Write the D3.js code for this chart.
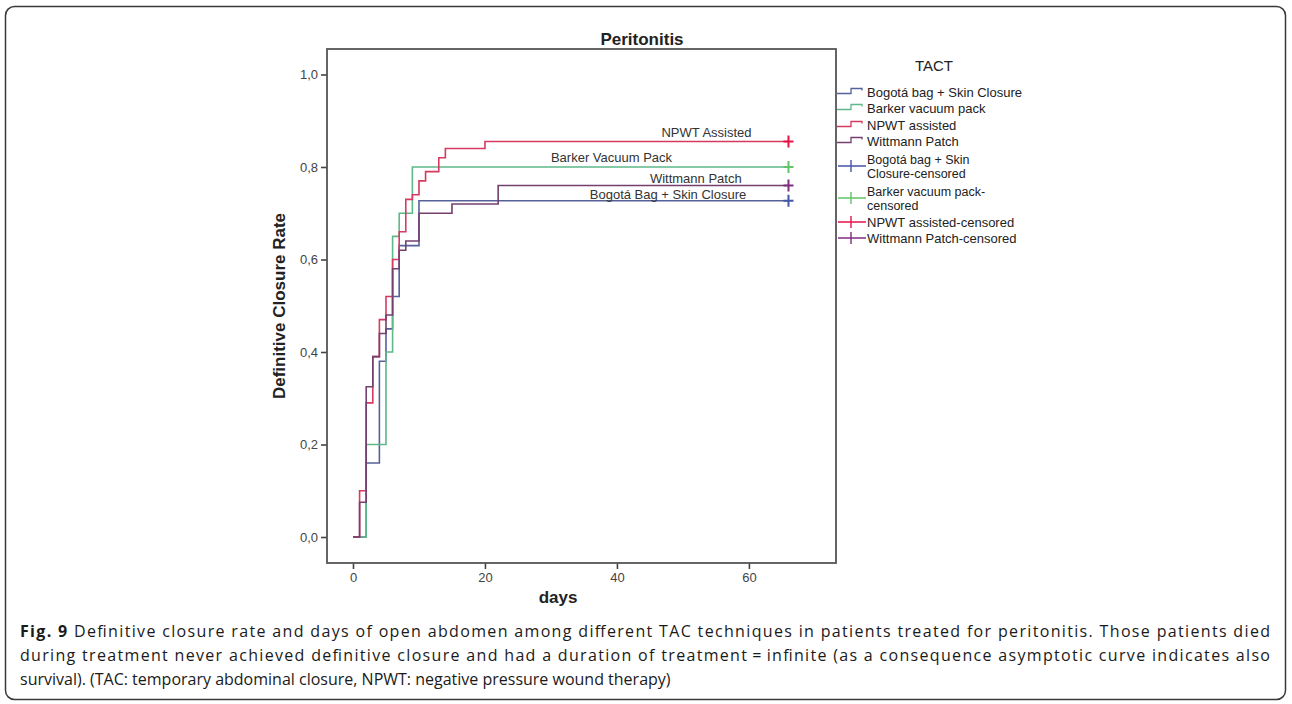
<!DOCTYPE html>
<html>
<head>
<meta charset="utf-8">
<script src="https://cdn.jsdelivr.net/npm/d3@7"></script>
<style>
body { margin: 0; background: #fff; }
svg { display: block; }
</style>
</head>
<body>
<svg id="chart" width="1292" height="704"></svg>
<script>
// groups in legend order
var groups = ["Bogotá bag + Skin Closure", "Barker vacuum pack", "NPWT assisted", "Wittmann Patch"];
var plotLabels = ["Bogotá Bag + Skin Closure", "Barker Vacuum Pack", "NPWT Assisted", "Wittmann Patch"];
var lineColors = ["#56619a", "#5fb88a", "#d63a60", "#74406f"];
var censorColors = ["#4656a6", "#62c46a", "#e81249", "#7f2c7f"];

// step times (days) and cumulative closure rate
var bogotaDays = [0, 2, 4, 5, 6, 7, 10];
var bogotaRate = [0, 0.16, 0.38, 0.45, 0.52, 0.63, 0.727];
var barkerDays = [0, 2, 5, 6, 7, 9];
var barkerRate = [0, 0.20, 0.40, 0.65, 0.70, 0.80];
var npwtDays = [0, 1, 2, 3, 4, 5, 6, 7, 8, 9, 10, 11, 13, 14, 20];
var npwtRate = [0, 0.10, 0.29, 0.39, 0.47, 0.52, 0.60, 0.66, 0.73, 0.74, 0.77, 0.79, 0.82, 0.84, 0.855];
var wittmannDays = [0, 1, 2, 3, 4, 5, 6, 7, 8, 10, 15, 22];
var wittmannRate = [0, 0.075, 0.325, 0.39, 0.44, 0.48, 0.58, 0.62, 0.64, 0.70, 0.72, 0.76];
var lastDay = 66;

var xTicks = [0, 20, 40, 60];
var yTicks = [0, 0.2, 0.4, 0.6, 0.8, 1.0];

var captionLines = [
	["Fig. 9", " Definitive closure rate and days of open abdomen among different TAC techniques in patients treated for peritonitis. Those patients died"],
	["", "during treatment never achieved definitive closure and had a duration of treatment\u2009=\u2009infinite (as a consequence asymptotic curve indicates also"],
	["", "survival). (TAC: temporary abdominal closure, NPWT: negative pressure wound therapy)"]
];

var seriesDays = [bogotaDays, barkerDays, npwtDays, wittmannDays];
var seriesRate = [bogotaRate, barkerRate, npwtRate, wittmannRate];

var svg = d3.select("#chart");
var box = {left: 327, right: 836, top: 49, bottom: 563};

// figure border
svg.append("rect").attr("x", 5.5).attr("y", 6.5).attr("width", 1280).attr("height", 693)
	.attr("rx", 9).attr("fill", "none").attr("stroke", "#3a3a3a").attr("stroke-width", 1.5);

var x = d3.scaleLinear().domain([-3.94, 73.2]).range([box.left, box.right]);
var y = d3.scaleLinear().domain([-0.0562, 1.0551]).range([box.bottom, box.top]);

var axisFont = "'Liberation Sans', Arial, sans-serif";

// axes
var yAxis = d3.axisLeft(y).tickValues(yTicks).tickSize(6).tickPadding(3)
	.tickFormat(function(d) { return d3.format(".1f")(d).replace(".", ","); });
var gy = svg.append("g").attr("transform", "translate(" + box.left + ",0)").call(yAxis);
var xAxis = d3.axisBottom(x).tickValues(xTicks).tickSize(6).tickPadding(4);
var gx = svg.append("g").attr("transform", "translate(0," + box.bottom + ")").call(xAxis);
[gx, gy].forEach(function(g) {
	g.select(".domain").remove();
	g.selectAll(".tick line").attr("stroke", "#444").attr("stroke-width", 1.6);
	g.selectAll(".tick text").attr("fill", "#444").style("font-family", axisFont).style("font-size", "13px");
});

// curves
var line = d3.line().x(function(d) { return x(d[0]); }).y(function(d) { return y(d[1]); }).curve(d3.curveStepAfter);
seriesDays.forEach(function(days, i) {
	var pts = days.map(function(d, j) { return [d, seriesRate[i][j]]; });
	pts.push([lastDay, seriesRate[i][seriesRate[i].length - 1]]);
	svg.append("path").attr("d", line(pts)).attr("fill", "none")
		.attr("stroke", lineColors[i]).attr("stroke-width", 1.6);
});

// censored marks
seriesRate.forEach(function(rates, i) {
	var cx = x(lastDay), cy = y(rates[rates.length - 1]);
	svg.append("path").attr("d", "M" + (cx - 5) + "," + cy + "H" + (cx + 5) + "M" + cx + "," + (cy - 6) + "V" + (cy + 6))
		.attr("stroke", censorColors[i]).attr("stroke-width", 2);
});

// plot frame
svg.append("rect").attr("x", box.left).attr("y", box.top)
	.attr("width", box.right - box.left).attr("height", box.bottom - box.top)
	.attr("fill", "none").attr("stroke", "#555").attr("stroke-width", 1.8);

// labels on curves
var labelPos = [
	{day: 59.6, anchor: "end", dy: -2},
	{day: 30, anchor: "start", dy: -5},
	{day: 60.4, anchor: "end", dy: -5},
	{day: 58.9, anchor: "end", dy: -2}
];
plotLabels.forEach(function(t, i) {
	var rates = seriesRate[i];
	svg.append("text").attr("x", x(labelPos[i].day)).attr("y", y(rates[rates.length - 1]) + labelPos[i].dy)
		.attr("text-anchor", labelPos[i].anchor).style("font-family", axisFont).style("font-size", "13px")
		.attr("fill", "#333").text(t);
});

// titles
svg.append("text").attr("x", 642).attr("y", 45).attr("text-anchor", "middle")
	.style("font-family", axisFont).style("font-size", "17px").style("font-weight", "bold").attr("fill", "#222").text("Peritonitis");
svg.append("text").attr("x", 558).attr("y", 603).attr("text-anchor", "middle")
	.style("font-family", axisFont).style("font-size", "17px").style("font-weight", "bold").attr("fill", "#222").text("days");
svg.append("text").attr("transform", "translate(285,306) rotate(-90)").attr("text-anchor", "middle")
	.style("font-family", axisFont).style("font-size", "17px").style("font-weight", "bold").attr("fill", "#222").text("Definitive Closure Rate");

// legend
var lg = svg.append("g").style("font-family", axisFont).style("font-size", "13px").attr("fill", "#222");
lg.append("text").attr("x", 934).attr("y", 71).attr("text-anchor", "middle").style("font-size", "15px").text("TACT");
var stepRows = [92, 108, 125, 141];
groups.forEach(function(g, i) {
	var cy = stepRows[i];
	lg.append("path").attr("d", "M837," + (cy + 1.5) + "H851V" + (cy - 3.5) + "H862V" + (cy - 1.5))
		.attr("fill", "none").attr("stroke", lineColors[i]).attr("stroke-width", 1.3);
	lg.append("text").attr("x", 867).attr("y", cy + 4.5).text(g);
});
var censorRows = [
	{cy: 166, lines: ["Bogotá bag + Skin", "Closure-censored"]},
	{cy: 198, lines: ["Barker vacuum pack-", "censored"]},
	{cy: 222, lines: ["NPWT assisted-censored"]},
	{cy: 238, lines: ["Wittmann Patch-censored"]}
];
censorRows.forEach(function(r, i) {
	lg.append("path").attr("d", "M838," + r.cy + "H866M851," + (r.cy - 6) + "V" + (r.cy + 6))
		.attr("stroke", censorColors[i]).attr("stroke-width", 1.4);
	r.lines.forEach(function(s, j) {
		lg.append("text").attr("x", 867).attr("y", r.cy + 4.5 + (j - (r.lines.length - 1) / 2) * 14)
			.style("font-size", r.lines.length > 1 ? "12.5px" : "13px").text(s);
	});
});

// caption
var cap = svg.append("g").style("font-family", "'Open Sans', sans-serif").style("font-size", "16px").attr("fill", "#1a1a1a");
captionLines.forEach(function(l, i) {
	var t = cap.append("text").attr("x", 20).attr("y", 637 + i * 24);
	if (i < 2) t.attr("textLength", 1250).attr("lengthAdjust", "spacing");
	if (l[0]) t.append("tspan").style("font-weight", "bold").text(l[0]);
	t.append("tspan").text(l[1]);
});
</script>
</body>
</html>
